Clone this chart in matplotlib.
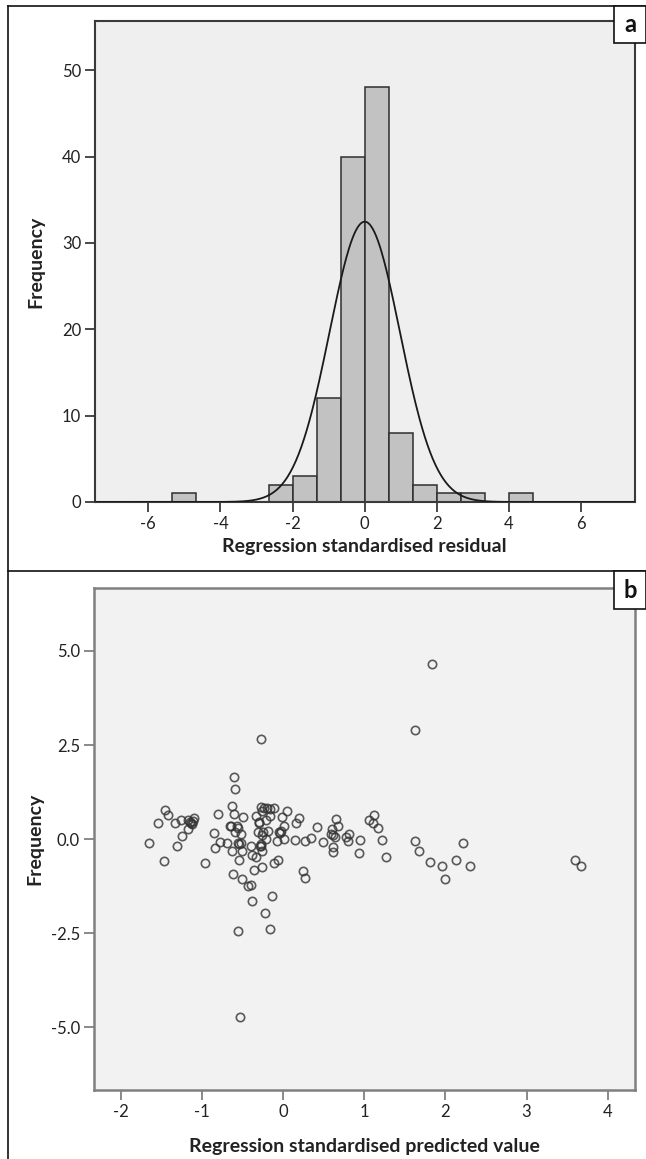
import numpy as np
import matplotlib.pyplot as plt
from matplotlib.patches import Rectangle
from matplotlib.lines import Line2D

plt.rcParams['font.family'] = ['Lato', 'DejaVu Sans']
plt.rcParams['axes.unicode_minus'] = False

# panel a: histogram of standardised residuals
bin_width = 2 / 3
bin_left = [-16/3, -8/3, -6/3, -4/3, -2/3, 0, 2/3, 4/3, 6/3, 8/3, 12/3]
counts = [1, 2, 3, 12, 40, 48, 8, 2, 1, 1, 1]
curve_mean = 0.0
curve_std = 0.975
n_total = 119

# panel b: predicted vs residual
pred = [1.836, 1.623, -0.274, -0.603, -0.593,
        -1.648, -1.547, -1.460, -1.420, -1.471, -1.329, -1.308, -1.258, -1.243,
        -1.171, -1.166, -1.146, -1.131, -1.116, -1.100, -1.12,
        -0.963, -0.857, -0.842, -0.801, -0.781, -0.690, -0.654, -0.639, -0.634,
        -0.629, -0.609, -0.614, -0.598, -0.573, -0.558, -0.548, -0.538, -0.522,
        -0.517, -0.512, -0.497, -0.502, -0.558, -0.527, -0.55,
        -0.431, -0.401, -0.390, -0.385, -0.385, -0.360, -0.335, -0.335, -0.309,
        -0.294, -0.284, -0.274, -0.269, -0.264, -0.259, -0.254, -0.243, -0.259,
        -0.223, -0.213, -0.208, -0.193, -0.183, -0.167, -0.157, -0.132, -0.106,
        -0.106, -0.071, -0.061, -0.051, -0.030, -0.010, 0.010, 0.015, 0.046,
        -0.23, -0.16, -0.04, -0.27, -0.30,
        0.142, 0.162, 0.198, 0.248, 0.264, 0.274, 0.340, 0.416, 0.487,
        0.593, 0.603, 0.609, 0.619, 0.639, 0.649, 0.680, 0.62,
        0.781, 0.796, 0.811, 0.933, 0.948,
        1.060, 1.105, 1.116, 1.171, 1.217, 1.273,
        1.623, 1.673, 1.805, 1.957, 1.998, 2.135, 2.221, 2.302,
        3.600, 3.666]
resid = [4.65, 2.89, 2.66, 1.64, 1.34,
         -0.11, 0.42, 0.77, 0.64, -0.58, 0.43, -0.18, 0.51, 0.09,
         0.26, 0.50, 0.45, 0.42, 0.47, 0.56, 0.40,
         -0.63, 0.16, -0.23, 0.67, -0.07, -0.10, 0.36, 0.34, -0.32,
         0.88, 0.67, -0.93, 0.18, 0.36, -0.09, -0.14, -0.56, 0.14,
         -0.09, -0.32, 0.59, -1.07, -2.45, -4.73, 0.30,
         -1.23, -1.21, -0.17, -0.41, -1.65, -0.83, -0.47, 0.61, 0.18,
         0.42, -0.17, -0.13, 0.85, 0.74, -0.32, 0.12, 0.19, -0.74,
         -1.95, 0.00, 0.51, 0.82, 0.22, -2.38, 0.61, -1.51, 0.82,
         -0.62, -0.04, -0.54, 0.19, 0.22, 0.59, 0.34, 0.00, 0.74,
         0.83, 0.80, 0.17, -0.19, 0.45,
         -0.02, 0.43, 0.56, -0.84, -0.04, -1.02, 0.02, 0.32, -0.08,
         0.15, 0.27, -0.22, -0.33, 0.06, 0.53, 0.34, 0.10,
         0.05, -0.05, 0.13, -0.36, -0.01,
         0.51, 0.42, 0.65, 0.29, -0.01, -0.47,
         -0.05, -0.32, -0.61, -0.70, -1.05, -0.56, -0.09, -0.70,
         -0.56, -0.71]

W, H = 646, 1159
fig = plt.figure(figsize=(W / 100, H / 100), dpi=100)

def fx(px):
    return px / W

def fy(py):
    return 1 - py / H

# ---- panel a
ax1 = fig.add_axes([fx(95), fy(502), fx(634.5) - fx(95), fy(21) - fy(502)])
ax1.set_facecolor('#efefef')
ax1.bar(bin_left, counts, width=bin_width, align='edge', color='#c2c2c2',
        edgecolor='#2e2e2e', linewidth=1.1, zorder=2)
xs = np.linspace(-7.48, 7.48, 600)
ys = n_total * bin_width / (curve_std * np.sqrt(2 * np.pi)) * np.exp(-0.5 * ((xs - curve_mean) / curve_std) ** 2)
ax1.plot(xs, ys, color='#1a1a1a', lw=1.3, zorder=3)
ax1.set_xlim(-7.48, 7.48)
ax1.set_ylim(0, 55.7)
ax1.set_xticks(range(-6, 7, 2))
ax1.set_yticks(range(0, 51, 10))
for s in ax1.spines.values():
    s.set_color('#3a3a3a')
    s.set_linewidth(1.5)
ax1.tick_params(direction='out', length=7, width=1.3, color='#3a3a3a',
                labelsize=12, labelcolor='#222222', pad=3)
ax1.set_xlabel('Regression standardised residual', fontsize=14,
               fontweight='bold', color='#222222')
ax1.set_ylabel('Frequency', fontsize=14, fontweight='bold', color='#222222')
ax1.xaxis.set_label_coords(0.5, -0.075)
ax1.yaxis.set_label_coords(-0.094, 0.5)

# ---- panel b
ax2 = fig.add_axes([fx(94), fy(1090), fx(634.5) - fx(94), fy(588) - fy(1090)])
ax2.set_facecolor('#f1f2f1')
ax2.plot(pred, resid, linestyle='none', marker='o', markersize=6,
         markerfacecolor='none', markeredgecolor='#333333', markeredgewidth=1.2,
         alpha=0.8, zorder=3)
ax2.set_xlim(-2.33, 4.33)
ax2.set_ylim(-6.66, 6.67)
ax2.set_xticks(range(-2, 5))
ax2.set_yticks([-5, -2.5, 0, 2.5, 5])
ax2.set_yticklabels(['-5.0', '-2.5', '0.0', '2.5', '5.0'])
for s in ax2.spines.values():
    s.set_color('#808080')
    s.set_linewidth(1.8)
ax2.tick_params(direction='out', length=7, width=1.3, color='#808080',
                labelsize=12, labelcolor='#222222', pad=3)
ax2.set_xlabel('Regression standardised predicted value', fontsize=14,
               fontweight='bold', color='#222222')
ax2.set_ylabel('Frequency', fontsize=14, fontweight='bold', color='#222222')
ax2.xaxis.set_label_coords(0.5, -0.096)
ax2.yaxis.set_label_coords(-0.094, 0.5)

# ---- panel frames
frame_kw = dict(transform=fig.transFigure, color='#111111', lw=1.2)
fig.add_artist(Line2D([fx(8), fx(8)], [fy(6), 0], **frame_kw))
fig.add_artist(Line2D([fx(8), 1], [fy(6), fy(6)], **frame_kw))
fig.add_artist(Line2D([fx(8), 1], [fy(571), fy(571)], **frame_kw))

for label, top, bot in [('a', 6, 43), ('b', 571, 609)]:
    fig.add_artist(Rectangle((fx(614), fy(bot)), fx(646) - fx(614), fy(top) - fy(bot),
                             transform=fig.transFigure, facecolor='white',
                             edgecolor='#111111', lw=1.2, zorder=5))
    fig.text(fx(630), fy((top + bot) / 2), label, ha='center', va='center',
             fontsize=17, fontweight='bold', color='#111111', zorder=6)

fig.savefig('out.png', dpi=100)
